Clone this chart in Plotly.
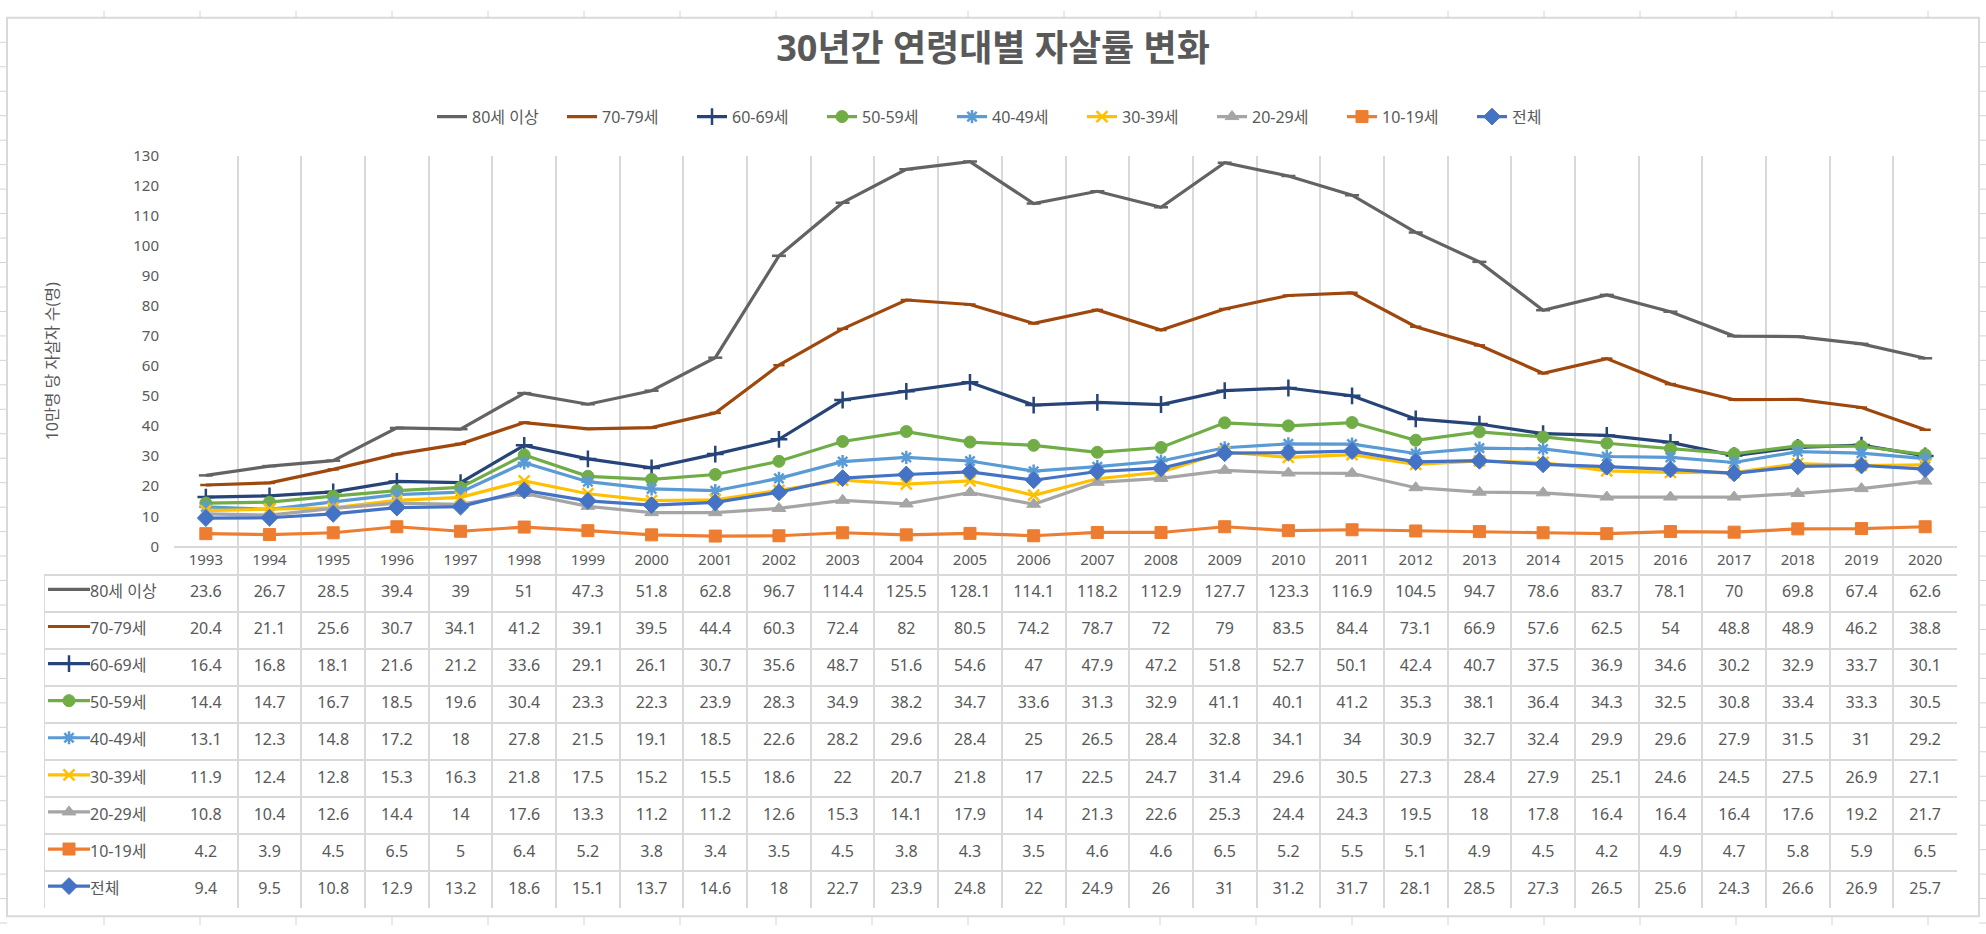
import plotly.graph_objects as go

W, H = 1986, 934

years = [str(y) for y in range(1993, 2021)]
series_names = ["80세 이상", "70-79세", "60-69세", "50-59세", "40-49세",
                "30-39세", "20-29세", "10-19세", "전체"]

age80 = [23.6, 26.7, 28.5, 39.4, 39, 51, 47.3, 51.8, 62.8, 96.7, 114.4, 125.5, 128.1, 114.1,
         118.2, 112.9, 127.7, 123.3, 116.9, 104.5, 94.7, 78.6, 83.7, 78.1, 70, 69.8, 67.4, 62.6]
age70 = [20.4, 21.1, 25.6, 30.7, 34.1, 41.2, 39.1, 39.5, 44.4, 60.3, 72.4, 82, 80.5, 74.2,
         78.7, 72, 79, 83.5, 84.4, 73.1, 66.9, 57.6, 62.5, 54, 48.8, 48.9, 46.2, 38.8]
age60 = [16.4, 16.8, 18.1, 21.6, 21.2, 33.6, 29.1, 26.1, 30.7, 35.6, 48.7, 51.6, 54.6, 47,
         47.9, 47.2, 51.8, 52.7, 50.1, 42.4, 40.7, 37.5, 36.9, 34.6, 30.2, 32.9, 33.7, 30.1]
age50 = [14.4, 14.7, 16.7, 18.5, 19.6, 30.4, 23.3, 22.3, 23.9, 28.3, 34.9, 38.2, 34.7, 33.6,
         31.3, 32.9, 41.1, 40.1, 41.2, 35.3, 38.1, 36.4, 34.3, 32.5, 30.8, 33.4, 33.3, 30.5]
age40 = [13.1, 12.3, 14.8, 17.2, 18, 27.8, 21.5, 19.1, 18.5, 22.6, 28.2, 29.6, 28.4, 25,
         26.5, 28.4, 32.8, 34.1, 34, 30.9, 32.7, 32.4, 29.9, 29.6, 27.9, 31.5, 31, 29.2]
age30 = [11.9, 12.4, 12.8, 15.3, 16.3, 21.8, 17.5, 15.2, 15.5, 18.6, 22, 20.7, 21.8, 17,
         22.5, 24.7, 31.4, 29.6, 30.5, 27.3, 28.4, 27.9, 25.1, 24.6, 24.5, 27.5, 26.9, 27.1]
age20 = [10.8, 10.4, 12.6, 14.4, 14, 17.6, 13.3, 11.2, 11.2, 12.6, 15.3, 14.1, 17.9, 14,
         21.3, 22.6, 25.3, 24.4, 24.3, 19.5, 18, 17.8, 16.4, 16.4, 16.4, 17.6, 19.2, 21.7]
age10 = [4.2, 3.9, 4.5, 6.5, 5, 6.4, 5.2, 3.8, 3.4, 3.5, 4.5, 3.8, 4.3, 3.5,
         4.6, 4.6, 6.5, 5.2, 5.5, 5.1, 4.9, 4.5, 4.2, 4.9, 4.7, 5.8, 5.9, 6.5]
total = [9.4, 9.5, 10.8, 12.9, 13.2, 18.6, 15.1, 13.7, 14.6, 18, 22.7, 23.9, 24.8, 22,
         24.9, 26, 31, 31.2, 31.7, 28.1, 28.5, 27.3, 26.5, 25.6, 24.3, 26.6, 26.9, 25.7]

values = [age80, age70, age60, age50, age40, age30, age20, age10, total]

title_text = "30년간 연령대별 자살률 변화"
ytitle_text = "10만명 당 자살자 수(명)"

# ---- styles ----
colors = ["#636363", "#9E480E", "#264478", "#70AD47", "#5B9BD5",
          "#FFC000", "#A5A5A5", "#ED7D31", "#4472C4"]
symbols = ["line-ew-open", "line-ew-open", "cross-thin-open", "circle", "asterisk-open",
           "x-thin-open", "triangle-up", "square", "diamond"]
msizes = [10, 8, 12, 12, 11, 11, 12, 12, 13]
TXT = "#595959"
GRID = "#D9D9D9"
FONT = "Noto Sans, Noto Sans CJK KR, sans-serif"

def px_x(p):
    return p / W

def px_y(p):
    return 1 - p / H

def marker_for(i):
    open_sym = symbols[i].endswith("-open")
    return dict(symbol=symbols[i], size=msizes[i], color=colors[i],
                line=dict(color=colors[i], width=2.5 if open_sym else 1))

fig = go.Figure()

# main lines
for i, name in enumerate(series_names):
    fig.add_trace(go.Scatter(
        x=years, y=values[i], name=name, mode="lines+markers",
        line=dict(color=colors[i], width=3.2),
        marker=marker_for(i),
        xaxis="x", yaxis="y", hoverinfo="x+y+name"))

# data table: header years
ROW_TOP = 9.0
HEADER_MID = 9.0 + 0.368
fig.add_trace(go.Scatter(
    x=years, y=[HEADER_MID] * len(years), mode="text", text=years,
    textfont=dict(size=15, color=TXT, family=FONT),
    xaxis="x2", yaxis="y2", showlegend=False, hoverinfo="skip"))

# data table: values
for i, name in enumerate(series_names):
    yrow = ROW_TOP - i - 0.5
    fig.add_trace(go.Scatter(
        x=years, y=[yrow] * len(years), mode="text",
        text=[f"{v:g}" for v in values[i]],
        textfont=dict(size=16, color=TXT, family=FONT),
        xaxis="x2", yaxis="y2", showlegend=False, hoverinfo="skip"))

# data table: row headers with legend keys
for i, name in enumerate(series_names):
    yrow = ROW_TOP - i - 0.5
    fig.add_trace(go.Scatter(
        x=[4, 46], y=[yrow + 0.1, yrow + 0.1], mode="lines",
        line=dict(color=colors[i], width=3.2),
        xaxis="x3", yaxis="y2", showlegend=False, hoverinfo="skip"))
    fig.add_trace(go.Scatter(
        x=[25], y=[yrow + 0.1], mode="markers", marker=marker_for(i),
        xaxis="x3", yaxis="y2", showlegend=False, hoverinfo="skip"))
    fig.add_trace(go.Scatter(
        x=[46], y=[yrow], mode="text", text=[name], textposition="middle right",
        textfont=dict(size=16, color=TXT, family=FONT),
        xaxis="x3", yaxis="y2", showlegend=False, hoverinfo="skip"))

# ---- decorations: spreadsheet grid outside chart + chart border ----
shapes = []
gl = dict(color="#D4D4D4", width=1)
for k in range(0, 21):
    xv = 104 + 96 * k
    if xv > W:
        break
    shapes.append(dict(type="line", xref="paper", yref="paper",
                       x0=px_x(xv), x1=px_x(xv), y0=px_y(0), y1=px_y(7), line=gl))
    shapes.append(dict(type="line", xref="paper", yref="paper",
                       x0=px_x(xv), x1=px_x(xv), y0=px_y(926), y1=px_y(934), line=gl))
for k in range(0, 40):
    yv = 32 + 25 * k
    if yv > H:
        break
    shapes.append(dict(type="line", xref="paper", yref="paper",
                       x0=px_x(0), x1=px_x(7), y0=px_y(yv), y1=px_y(yv), line=gl))
    shapes.append(dict(type="line", xref="paper", yref="paper",
                       x0=px_x(1979), x1=px_x(W), y0=px_y(yv), y1=px_y(yv), line=gl))
shapes.append(dict(type="rect", xref="paper", yref="paper",
                   x0=px_x(7), x1=px_x(1979), y0=px_y(925), y1=px_y(7),
                   line=dict(color=GRID, width=2)))
# table left border
shapes.append(dict(type="line", xref="x3", yref="y2", x0=0, x1=0, y0=0, y1=ROW_TOP,
                   line=dict(color=GRID, width=2)))

fig.update_layout(
    width=W, height=H,
    margin=dict(l=0, r=0, t=0, b=0),
    paper_bgcolor="white", plot_bgcolor="white",
    font=dict(family=FONT, color=TXT, size=15),
    title=dict(text=f"<b>{title_text}</b>", x=0.5, xanchor="center",
               y=px_y(48), yanchor="middle",
               font=dict(size=36, color=TXT, family=FONT)),
    showlegend=True,
    legend=dict(orientation="h", x=px_x(1017), xanchor="center", y=px_y(108), yanchor="middle",
                font=dict(size=16, color=TXT, family=FONT),
                entrywidth=85, itemwidth=30, bgcolor="rgba(0,0,0,0)"),
    xaxis=dict(domain=[px_x(174), px_x(1957)], anchor="y", type="category",
               categoryorder="array", categoryarray=years, range=[-0.5, 27.5],
               tickson="boundaries", showgrid=True, gridcolor=GRID, gridwidth=2,
               showticklabels=False, ticks="", showline=True, linecolor=GRID, linewidth=2,
               zeroline=False, fixedrange=True),
    yaxis=dict(domain=[px_y(547), px_y(148)], anchor="x", range=[0, 130], dtick=10,
               showgrid=False, zeroline=False, showline=False, ticks="",
               tickfont=dict(size=15, color=TXT), ticklabelstandoff=14, fixedrange=True),
    xaxis2=dict(domain=[px_x(174), px_x(1957)], anchor="y2", type="category",
                categoryorder="array", categoryarray=years, range=[-0.5, 27.5],
                tickson="boundaries", showgrid=True, gridcolor=GRID, gridwidth=2,
                showticklabels=False, ticks="", showline=False, zeroline=False, fixedrange=True),
    yaxis2=dict(domain=[px_y(917), px_y(548)], anchor="x2", range=[0, 9.736],
                tickvals=list(range(0, 10)), showgrid=True, gridcolor=GRID, gridwidth=2,
                showticklabels=False, ticks="", zeroline=False, showline=False, fixedrange=True),
    xaxis3=dict(domain=[px_x(44), px_x(174)], anchor="y2", range=[0, 130],
                showgrid=False, showticklabels=False, zeroline=False, showline=False,
                ticks="", fixedrange=True),
    shapes=shapes,
    annotations=[dict(text=ytitle_text, xref="paper", yref="paper",
                      x=px_x(52), y=px_y(358), textangle=-90, showarrow=False,
                      xanchor="center", yanchor="middle",
                      font=dict(size=16, color=TXT, family=FONT))],
)

fig.write_html("out.html", config={"displayModeBar": False},
               post_script="document.body.style.margin='0';document.body.style.overflow='hidden';")
